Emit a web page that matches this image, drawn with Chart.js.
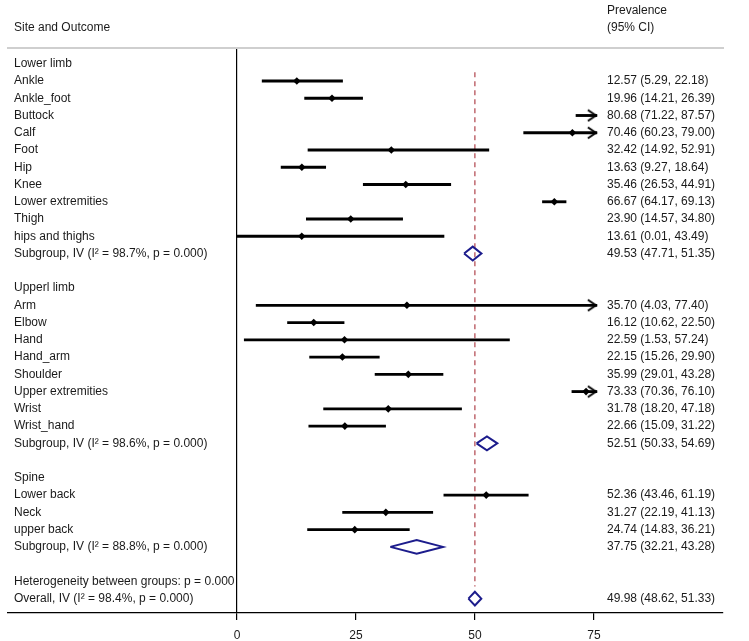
<!DOCTYPE html>
<html>
<head>
<meta charset="utf-8">
<script src="https://cdn.jsdelivr.net/npm/chart.js@4"></script>
<style>html,body{margin:0;padding:0;background:#fff}canvas{display:block}</style>
</head>
<body>
<canvas id="forest" width="749" height="641"></canvas>
<script>
// prevalence (95% CI) by site
const groupNames = ['Lower limb', 'Upperl limb', 'Spine']

const lowerNames = ['Ankle', 'Ankle_foot', 'Buttock', 'Calf', 'Foot', 'Hip', 'Knee', 'Lower extremities', 'Thigh', 'hips and thighs']
const lowerEst = [12.57, 19.96, 80.68, 70.46, 32.42, 13.63, 35.46, 66.67, 23.90, 13.61]
const lowerLo = [5.29, 14.21, 71.22, 60.23, 14.92, 9.27, 26.53, 64.17, 14.57, 0.01]
const lowerHi = [22.18, 26.39, 87.57, 79.00, 52.91, 18.64, 44.91, 69.13, 34.80, 43.49]

const upperNames = ['Arm', 'Elbow', 'Hand', 'Hand_arm', 'Shoulder', 'Upper extremities', 'Wrist', 'Wrist_hand']
const upperEst = [35.70, 16.12, 22.59, 22.15, 35.99, 73.33, 31.78, 22.66]
const upperLo = [4.03, 10.62, 1.53, 15.26, 29.01, 70.36, 18.20, 15.09]
const upperHi = [77.40, 22.50, 57.24, 29.90, 43.28, 76.10, 47.18, 31.22]

const spineNames = ['Lower back', 'Neck', 'upper back']
const spineEst = [52.36, 31.27, 24.74]
const spineLo = [43.46, 22.19, 14.83]
const spineHi = [61.19, 41.13, 36.21]

const subgroupLabels = ['Subgroup, IV (I\u00b2 = 98.7%, p = 0.000)', 'Subgroup, IV (I\u00b2 = 98.6%, p = 0.000)', 'Subgroup, IV (I\u00b2 = 88.8%, p = 0.000)']
const subEst = [49.53, 52.51, 37.75]
const subLo = [47.71, 50.33, 32.21]
const subHi = [51.35, 54.69, 43.28]

const heterogeneityLabel = 'Heterogeneity between groups: p = 0.000'
const overallLabel = 'Overall, IV (I\u00b2 = 98.4%, p = 0.000)'
const overallEst = 49.98
const overallLo = 48.62
const overallHi = 51.33

const xTicks = [0, 25, 50, 75]
const headLeft = 'Site and Outcome'
const headRight = ['Prevalence', '(95% CI)']

// plot window: CIs past CLIP get an arrow, like the original
const CLIP = 75.6
const X_MIN = -48.1
const X_MAX = 102.1
const Y_MIN = -0.40
const Y_MAX = 31.32
const HALF = 0.4
const CI_COL = 599

const fmt = (e, l, h) => `${e.toFixed(2)} (${l.toFixed(2)}, ${h.toFixed(2)})`

const siteLabels = []
const ciTexts = []
const points = []
const bars = []
const arrows = []
const diamonds = []

const diamond = (est, lo, hi, row) => [
    {x: lo, y: row}, {x: est, y: row - HALF}, {x: hi, y: row}, {x: est, y: row + HALF}, {x: lo, y: row}
]

const groups = [
    [lowerNames, lowerEst, lowerLo, lowerHi],
    [upperNames, upperEst, upperLo, upperHi],
    [spineNames, spineEst, spineLo, spineHi]
]

groups.forEach(([names, est, lo, hi], g) => {
    siteLabels.push(groupNames[g])
    ciTexts.push('')
    names.forEach((n, i) => {
        const row = siteLabels.length
        siteLabels.push(n)
        ciTexts.push(fmt(est[i], lo[i], hi[i]))
        bars.push({y: row, x: [lo[i], Math.min(hi[i], CLIP)]})
        if (est[i] <= CLIP) points.push({x: est[i], y: row})
        if (hi[i] > CLIP) arrows.push({x: CLIP, y: row})
    })
    const row = siteLabels.length
    siteLabels.push(subgroupLabels[g])
    ciTexts.push(fmt(subEst[g], subLo[g], subHi[g]))
    diamonds.push(diamond(subEst[g], subLo[g], subHi[g], row))
    siteLabels.push('')
    ciTexts.push('')
})
siteLabels.push(heterogeneityLabel)
ciTexts.push('')
const overallRow = siteLabels.length
siteLabels.push(overallLabel)
ciTexts.push(fmt(overallEst, overallLo, overallHi))
diamonds.push(diamond(overallEst, overallLo, overallHi, overallRow))

const makeArrow = () => {
    const c = document.createElement('canvas')
    c.width = 24
    c.height = 14
    const g = c.getContext('2d')
    g.strokeStyle = '#000'
    g.lineWidth = 2
    g.lineJoin = 'miter'
    g.beginPath()
    g.moveTo(3, 1.5)
    g.lineTo(11, 7)
    g.lineTo(3, 12.5)
    g.stroke()
    return c
}

// headers and the right-hand "estimate (CI)" column, one line per row
const textPlugin = {
    id: 'textColumns',
    afterDraw(chart) {
        const {ctx, chartArea, scales} = chart
        const col = chartArea.left + CI_COL
        ctx.save()
        ctx.font = '12px "Liberation Sans", Arial, sans-serif'
        ctx.fillStyle = '#1a1a1a'
        ctx.textBaseline = 'middle'
        ctx.textAlign = 'left'
        ctx.fillText(headLeft, chartArea.left + 6, 28)
        ctx.fillText(headRight[0], col, 11)
        ctx.fillText(headRight[1], col, 28)
        ciTexts.forEach((t, i) => {
            if (t) ctx.fillText(t, col, scales.y.getPixelForValue(i))
        })
        ctx.restore()
    }
}

Chart.defaults.font.family = '"Liberation Sans", Arial, sans-serif'
Chart.defaults.font.size = 12
Chart.defaults.color = '#1a1a1a'

const datasets = [
    {
        type: 'scatter', data: points, pointStyle: 'rectRot', pointRadius: 3.8,
        backgroundColor: '#000', borderWidth: 0
    },
    {
        type: 'scatter', data: arrows, pointStyle: makeArrow(), pointRadius: 7
    },
    {
        type: 'bar', indexAxis: 'y', data: bars, backgroundColor: '#000',
        barThickness: 2.2, grouped: false, borderWidth: 0
    },
    ...diamonds.map(d => ({
        type: 'line', data: d, borderColor: '#1c1c8c', borderWidth: 2,
        pointRadius: 0, fill: false, tension: 0, borderJoinStyle: 'miter'
    })),
    {
        type: 'line', data: [{x: overallEst, y: 0.5}, {x: overallEst, y: 30.3}],
        borderColor: '#b0434b', borderWidth: 1.2, borderDash: [5, 4], pointRadius: 0, fill: false
    }
]

new Chart(document.getElementById('forest'), {
    type: 'scatter',
    data: {datasets},
    options: {
        responsive: false,
        animation: false,
        layout: {padding: {top: 48, left: 8, right: 26, bottom: 0}},
        plugins: {legend: {display: false}, tooltip: {enabled: false}},
        scales: {
            x: {
                type: 'linear', position: 'bottom', min: X_MIN, max: X_MAX,
                afterBuildTicks: s => { s.ticks = xTicks.map(v => ({value: v})) },
                afterFit: s => { s.height = 28 },
                grid: {
                    color: c => (c.tick && c.tick.value === 0 ? '#000' : 'rgba(0,0,0,0)'),
                    tickColor: '#000', tickLength: 7, lineWidth: 1.2
                },
                border: {color: '#000', width: 1.2},
                ticks: {padding: 8, autoSkip: false, maxRotation: 0}
            },
            xTop: {
                type: 'linear', position: 'top', min: X_MIN, max: X_MAX,
                afterFit: s => { s.height = 0 },
                grid: {display: false}, ticks: {display: false},
                border: {color: '#cfcfcf', width: 2}
            },
            y: {
                type: 'linear', position: 'left', reverse: true, min: Y_MIN, max: Y_MAX,
                afterBuildTicks: s => { s.ticks = siteLabels.map((_, i) => ({value: i})) },
                afterFit: s => { s.width = 0 },
                grid: {display: false},
                border: {display: false},
                ticks: {mirror: true, padding: 6, autoSkip: false, crossAlign: 'near', callback: v => siteLabels[v]}
            }
        }
    },
    plugins: [textPlugin]
})
</script>
</body>
</html>
